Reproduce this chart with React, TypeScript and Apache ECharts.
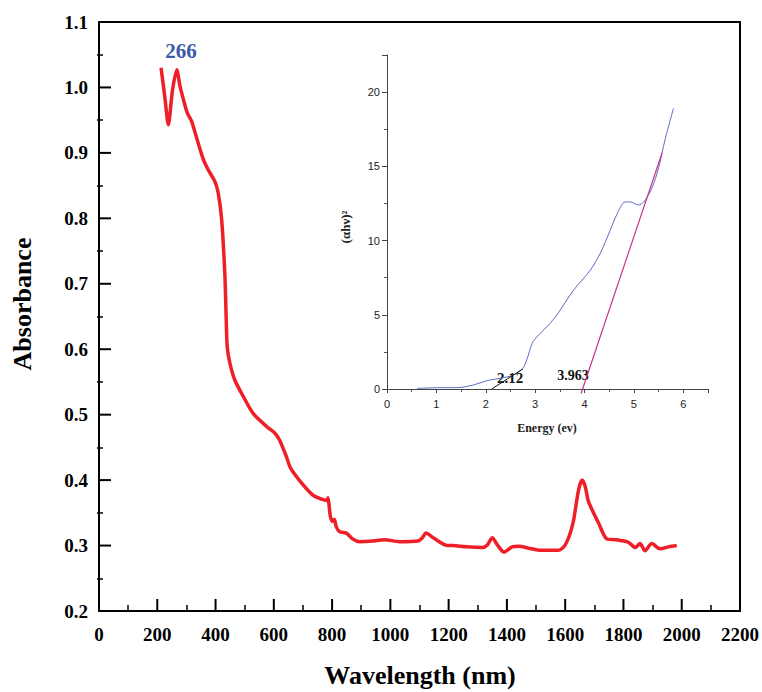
import React, { useEffect, useRef } from "react";
import * as echarts from "echarts";

// Main spectrum: wavelength (nm) vs absorbance
const wavelength = [213, 226, 238, 252, 267, 278, 290, 303, 318, 335, 358, 375, 398, 409, 421, 432, 436, 440, 449, 466, 495, 529, 575, 603, 620, 643, 658, 700, 734, 757, 782, 786, 790, 794, 801, 808, 814, 826, 849, 871, 894, 939, 979, 1031, 1094, 1110, 1122, 1150, 1196, 1213, 1260, 1316, 1333, 1350, 1367, 1390, 1418, 1441, 1475, 1510, 1578, 1595, 1606, 1618, 1629, 1646, 1658, 1669, 1680, 1715, 1743, 1772, 1817, 1840, 1857, 1874, 1897, 1926, 1955, 1983];
const absorbance = [1.030, 0.985, 0.943, 0.995, 1.027, 1.002, 0.981, 0.961, 0.948, 0.923, 0.890, 0.874, 0.856, 0.839, 0.798, 0.714, 0.655, 0.604, 0.579, 0.553, 0.528, 0.502, 0.482, 0.472, 0.461, 0.436, 0.418, 0.393, 0.377, 0.372, 0.369, 0.373, 0.360, 0.345, 0.337, 0.340, 0.329, 0.321, 0.319, 0.310, 0.306, 0.307, 0.309, 0.306, 0.307, 0.312, 0.319, 0.311, 0.300, 0.300, 0.298, 0.297, 0.301, 0.312, 0.301, 0.290, 0.298, 0.299, 0.296, 0.293, 0.293, 0.298, 0.306, 0.320, 0.339, 0.385, 0.400, 0.390, 0.367, 0.334, 0.310, 0.309, 0.305, 0.297, 0.303, 0.292, 0.303, 0.295, 0.298, 0.300];

// Inset: Tauc plot, energy (eV) vs (alpha h nu)^2
const energy = [0.61, 1.08, 1.42, 1.75, 2.02, 2.29, 2.56, 2.75, 2.83, 2.94, 3.04, 3.24, 3.44, 3.78, 4.12, 4.32, 4.52, 4.66, 4.82, 4.93, 5.09, 5.2, 5.36, 5.5, 5.63, 5.8];
const ahv2 = [0.04, 0.09, 0.09, 0.27, 0.56, 0.72, 0.94, 1.39, 1.96, 3.08, 3.53, 4.2, 4.99, 6.67, 8.02, 9.15, 10.7, 11.8, 12.6, 12.6, 12.4, 12.6, 13.5, 14.9, 16.8, 18.9];

// Tangent (extrapolation) lines
const fitLowX = [2.12, 2.75];
const fitLowY = [0, 1.35];
const fitHighX = [3.93, 5.57];
const fitHighY = [-0.3, 15.9];

// Major tick values of the main axes
const mainXTicks = [0, 200, 400, 600, 800, 1000, 1200, 1400, 1600, 1800, 2000, 2200];
const mainYTicks = [0.2, 0.3, 0.4, 0.5, 0.6, 0.7, 0.8, 0.9, 1.0, 1.1];

const SERIF = "'Liberation Serif', 'Times New Roman', serif";
const SANS = "'Liberation Sans', Arial, sans-serif";

const GRID_W = 762 - 99 - 20;
const GRID_H = 692 - 22 - 81;
const MAJOR_LEN = 12;

const zip = (a: number[], b: number[]) => a.map((v, i) => [v, b[i]]);

export default function App() {
  const ref = useRef<HTMLDivElement>(null);
  useEffect(() => {
    if (!ref.current) return;
    const chart = echarts.init(ref.current, null, { renderer: "svg" });
    const insetLine = { color: "#444", width: 1 };
    const insetMinor = { color: "#555", width: 1 };
    const mainLine = { color: "#000", width: 2 };
    const frameAxis = (pos: string, min: number, max: number) => ({
      gridIndex: 0, type: "value", position: pos, min, max,
      axisLine: { show: true, onZero: false, lineStyle: mainLine },
      axisTick: { show: false }, axisLabel: { show: false }, splitLine: { show: false },
    });
    // helper axis on the opposite edge (moved over by offset) whose outward minor ticks point into the plot
    const minorAxis = (pos: string, offset: number, min: number, max: number, interval: number) => ({
      gridIndex: 0, type: "value", position: pos, offset, min, max, interval,
      axisLine: { show: false, onZero: false },
      axisTick: { show: false },
      minorTick: { show: true, splitNumber: 2, length: 6, lineStyle: { color: "#000", width: 1.5 } },
      axisLabel: { show: false }, splitLine: { show: false },
    });
    chart.setOption({
      animation: false,
      backgroundColor: "#fff",
      grid: [
        { left: 99, top: 22, right: 20, bottom: 81 },
        { left: 387, top: 55, width: 321, height: 334 },
      ],
      xAxis: [
        {
          gridIndex: 0, type: "value", position: "bottom", min: 0, max: 2200, interval: 200,
          axisLine: { show: true, onZero: false, lineStyle: mainLine },
          axisTick: { show: false },
          splitLine: { show: false },
          axisLabel: { margin: 14, color: "#000", fontFamily: SERIF, fontWeight: "bold", fontSize: 19, formatter: (v: number) => String(v) },
        },
        frameAxis("top", 0, 2200),
        minorAxis("top", -GRID_H, 0, 2200, 200),
        {
          gridIndex: 1, type: "value", position: "bottom", min: 0, max: 6.5, interval: 1,
          axisLine: { show: true, onZero: false, lineStyle: insetLine },
          axisTick: { show: true, length: 4, lineStyle: insetLine },
          minorTick: { show: true, splitNumber: 2, length: 3, lineStyle: insetMinor },
          axisLabel: { margin: 9, color: "#222", fontFamily: SANS, fontSize: 11, showMaxLabel: false },
          splitLine: { show: false },
        },
      ],
      yAxis: [
        {
          gridIndex: 0, type: "value", position: "left", min: 0.2, max: 1.1, interval: 0.1,
          axisLine: { show: true, onZero: false, lineStyle: mainLine },
          axisTick: { show: false },
          splitLine: { show: false },
          axisLabel: { margin: 11, color: "#000", fontFamily: SERIF, fontWeight: "bold", fontSize: 19, formatter: (v: number) => v.toFixed(1) },
        },
        frameAxis("right", 0.2, 1.1),
        minorAxis("right", -GRID_W, 0.2, 1.1, 0.1),
        {
          gridIndex: 1, type: "value", position: "left", min: 0, max: 22.5, interval: 5,
          axisLine: { show: true, onZero: false, lineStyle: insetLine },
          axisTick: { show: true, length: 5, lineStyle: insetLine },
          minorTick: { show: true, splitNumber: 2, length: 3, lineStyle: insetMinor },
          axisLabel: { margin: 7, color: "#222", fontFamily: SANS, fontSize: 11, showMaxLabel: false },
          splitLine: { show: false },
        },
      ],
      series: [
        {
          type: "line", xAxisIndex: 0, yAxisIndex: 0, data: zip(wavelength, absorbance),
          showSymbol: false, smooth: 0.25, lineStyle: { color: "#ee1f26", width: 3.5 }, z: 3,
        },
        {
          // major ticks on the bottom axis, placed through the axis scale
          type: "custom", xAxisIndex: 0, yAxisIndex: 0, silent: true, clip: false, z: 5,
          data: mainXTicks.map((v) => [v, 0.2]),
          encode: { x: 0, y: 1 },
          renderItem: (_p: any, api: any) => {
            const pt = api.coord([api.value(0), api.value(1)]);
            return { type: "line", shape: { x1: pt[0], y1: pt[1], x2: pt[0], y2: pt[1] - MAJOR_LEN }, style: { stroke: "#000", lineWidth: 2 } };
          },
        },
        {
          // major ticks on the left axis, placed through the axis scale
          type: "custom", xAxisIndex: 0, yAxisIndex: 0, silent: true, clip: false, z: 5,
          data: mainYTicks.map((v) => [0, v]),
          encode: { x: 0, y: 1 },
          renderItem: (_p: any, api: any) => {
            const pt = api.coord([api.value(0), api.value(1)]);
            return { type: "line", shape: { x1: pt[0], y1: pt[1], x2: pt[0] + MAJOR_LEN, y2: pt[1] }, style: { stroke: "#000", lineWidth: 2 } };
          },
        },
        {
          type: "line", xAxisIndex: 3, yAxisIndex: 3, data: zip(energy, ahv2),
          showSymbol: false, smooth: 0.3, lineStyle: { color: "#5a6cc8", width: 1 }, z: 4,
        },
        {
          type: "line", xAxisIndex: 3, yAxisIndex: 3, data: zip(fitLowX, fitLowY),
          showSymbol: false, clip: false, lineStyle: { color: "#111", width: 1 }, z: 4,
        },
        {
          type: "line", xAxisIndex: 3, yAxisIndex: 3, data: zip(fitHighX, fitHighY),
          showSymbol: false, clip: false, lineStyle: { color: "#c8348a", width: 1.2 }, z: 4,
        },
      ],
      graphic: [
        { type: "text", x: 420, y: 675, style: { text: "Wavelength (nm)", font: `bold 26px ${SERIF}`, fill: "#000", textAlign: "center", textVerticalAlign: "middle" } },
        { type: "text", x: 22, y: 304, rotation: Math.PI / 2, style: { text: "Absorbance", font: `bold 26px ${SERIF}`, fill: "#000", textAlign: "center", textVerticalAlign: "middle" } },
        { type: "text", x: 181, y: 51, style: { text: "266", font: `bold 21px ${SERIF}`, fill: "#3b5aa8", textAlign: "center", textVerticalAlign: "middle" } },
        { type: "text", x: 547, y: 428, style: { text: "Energy (ev)", font: `bold 12px ${SERIF}`, fill: "#222", textAlign: "center", textVerticalAlign: "middle" } },
        { type: "text", x: 345, y: 227, rotation: Math.PI / 2, style: { text: "(αhν)²", font: `bold 13px ${SERIF}`, fill: "#222", textAlign: "center", textVerticalAlign: "middle" } },
        { type: "text", x: 510, y: 378, style: { text: "2.12", font: `bold 15px ${SERIF}`, fill: "#111", textAlign: "center", textVerticalAlign: "middle" } },
        { type: "text", x: 573, y: 375, style: { text: "3.963", font: `bold 14px ${SERIF}`, fill: "#111", textAlign: "center", textVerticalAlign: "middle" } },
      ],
    });
    return () => chart.dispose();
  }, []);
  return <div ref={ref} style={{ position: "fixed", left: 0, top: 0, width: 762, height: 692 }} />;
}
